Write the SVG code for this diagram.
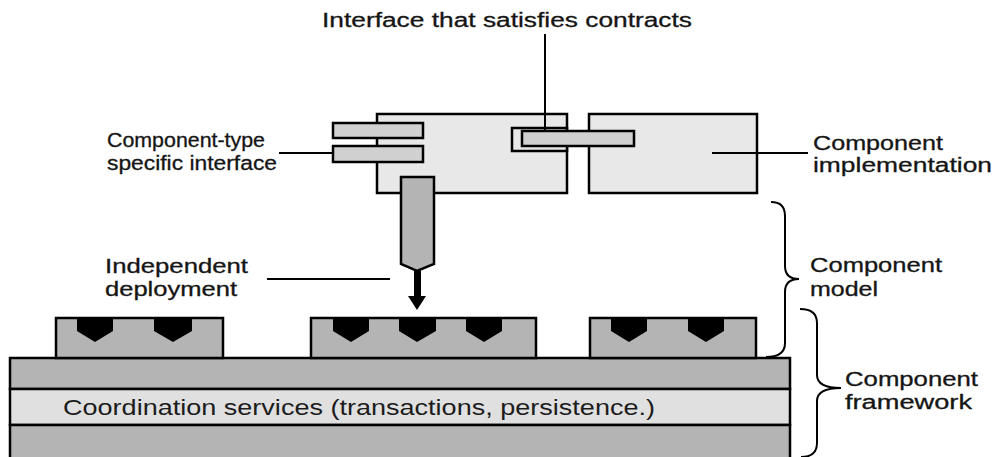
<svg xmlns="http://www.w3.org/2000/svg" width="995" height="457" viewBox="0 0 995 457">
<style>
.lbl{font-family:"Liberation Sans",Arial,sans-serif;font-size:20px;fill:#151515;stroke:#151515;stroke-width:0.3px;}
.narrow{font-family:"Liberation Sans",Arial,sans-serif;font-size:21.5px;fill:#1c1c1c;}
.light{fill:#e8e8e8;stroke:#000;stroke-width:2.5;}
.bar{fill:#d0d0d0;stroke:#000;stroke-width:2.5;}
.dark{fill:#b4b4b4;stroke:#000;stroke-width:2.5;}
.notch{fill:#000;}
.ln{stroke:#000;stroke-width:2;fill:none;}
.brace{stroke:#000;stroke-width:2;fill:none;}
</style>
<rect width="995" height="457" fill="#fff"/>

<g id="framework">
<rect x="10" y="358" width="780" height="31" class="dark"/>
<rect x="10" y="389" width="780" height="36" fill="#e0e0e0" stroke="#000" stroke-width="2.5"/>
<rect x="10" y="425" width="780" height="40" class="dark"/>
<text class="narrow" x="63" y="415" textLength="592" lengthAdjust="spacingAndGlyphs">Coordination services  (transactions,  persistence.)</text>
</g>

<g id="slot1">
<rect x="56" y="318" width="167" height="40" class="dark"/>
<polygon class="notch" points="77,318 113,318 113,331 95,342 77,331"/>
<polygon class="notch" points="154,318 192,318 192,331 173,342 154,331"/>
</g>
<g id="slot2">
<rect x="311" y="318" width="225" height="40" class="dark"/>
<polygon class="notch" points="333,318 369,318 369,331 351,342 333,331"/>
<polygon class="notch" points="399,318 436,318 436,331 417,342 399,331"/>
<polygon class="notch" points="466,318 502,318 502,331 484,342 466,331"/>
</g>
<g id="slot3">
<rect x="590" y="318" width="166" height="40" class="dark"/>
<polygon class="notch" points="611,318 647,318 647,331 629,342 611,331"/>
<polygon class="notch" points="688,318 724,318 724,331 706,342 688,331"/>
</g>

<g id="component">
<rect x="377" y="114" width="190" height="79" class="light"/>
<rect x="512" y="128" width="55" height="23" class="light"/>
<rect x="333" y="123" width="90" height="15" class="bar"/>
<rect x="333" y="146" width="90" height="16" class="bar"/>
<polygon points="401,177 434,177 434,264 417,271 401,264" class="dark"/>
</g>

<g id="implementation">
<rect x="589" y="114" width="168" height="79" class="light"/>
</g>

<g id="contract-interface">
<rect x="522" y="131" width="112" height="15" class="bar"/>
</g>

<g id="connectors">
<line x1="545" y1="34" x2="545" y2="131" class="ln" stroke-width="2.5"/>
<line x1="279" y1="153" x2="333" y2="153" class="ln"/>
<line x1="712" y1="153" x2="808" y2="153" class="ln"/>
<line x1="267" y1="279" x2="390" y2="279" class="ln"/>
<rect x="414" y="271" width="7" height="26" fill="#000"/>
<polygon points="408,296 426,296 417,310" fill="#000"/>
<path class="brace" d="M771,202 Q785,202 785,216 L785,266 Q785,279 799,279 Q785,279 785,292 L785,343 Q785,357 766,357"/>
<path class="brace" d="M800,309 Q817,309 817,323 L817,375 Q817,388 841,388 Q817,388 817,401 L817,443 Q817,457 801,457"/>
</g>

<g id="labels">
<text class="lbl" x="107" y="147" textLength="158" lengthAdjust="spacingAndGlyphs">Component-type</text>
<text class="lbl" x="107" y="170" textLength="170" lengthAdjust="spacingAndGlyphs">specific interface</text>
<text class="lbl" x="322" y="27" textLength="370" lengthAdjust="spacingAndGlyphs">Interface that satisfies contracts</text>
<text class="lbl" x="813" y="150" textLength="130" lengthAdjust="spacingAndGlyphs">Component</text>
<text class="lbl" x="813" y="172" textLength="179" lengthAdjust="spacingAndGlyphs">implementation</text>
<text class="lbl" x="105" y="273" textLength="143" lengthAdjust="spacingAndGlyphs">Independent</text>
<text class="lbl" x="105" y="296" textLength="132" lengthAdjust="spacingAndGlyphs">deployment</text>
<text class="lbl" x="810" y="272" textLength="132" lengthAdjust="spacingAndGlyphs">Component</text>
<text class="lbl" x="810" y="296" textLength="68" lengthAdjust="spacingAndGlyphs">model</text>
<text class="lbl" x="845" y="386" textLength="133" lengthAdjust="spacingAndGlyphs">Component</text>
<text class="lbl" x="845" y="409" textLength="127" lengthAdjust="spacingAndGlyphs">framework</text>
</g>
</svg>
